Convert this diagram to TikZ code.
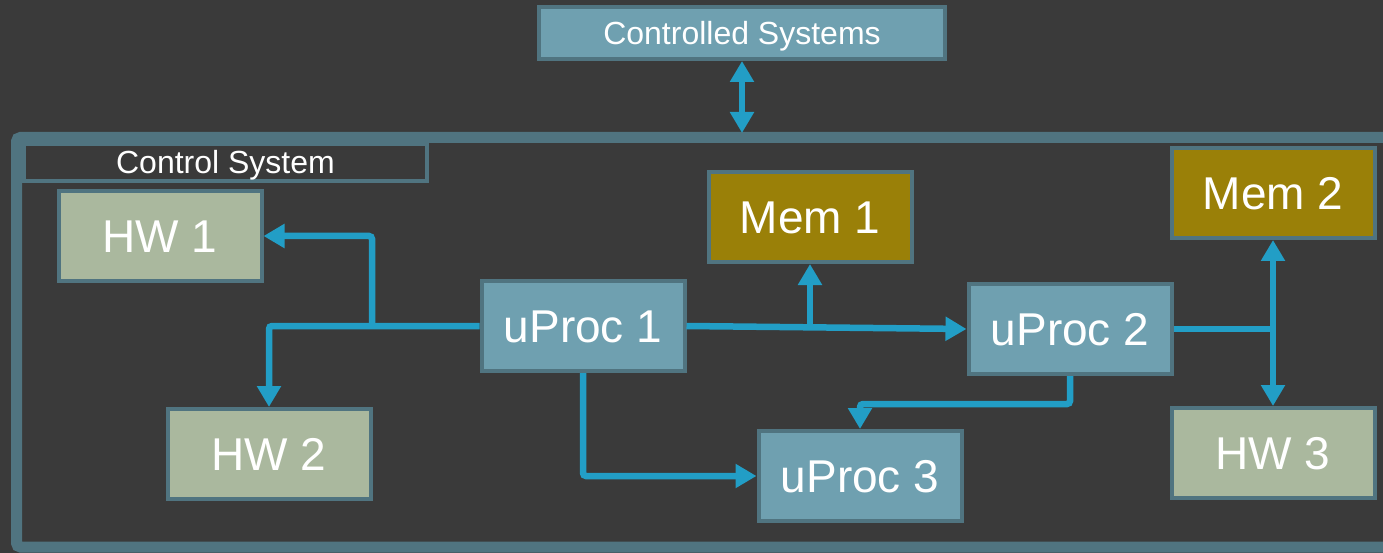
\documentclass[tikz,border=0pt]{standalone}
\usepackage{fontspec}
\setmainfont{Liberation Sans}
\usetikzlibrary{arrows.meta,positioning}
\definecolor{bgGrey}{RGB}{58,58,58}
\definecolor{edgeTeal}{RGB}{80,116,128}
\definecolor{procBlue}{RGB}{111,160,176}
\definecolor{memGold}{RGB}{154,128,8}
\definecolor{hwSage}{RGB}{170,184,158}
\definecolor{wireBlue}{RGB}{34,158,198}
\tikzset{%
  >={Triangle[width=23pt,length=21pt]},
  % Specifications for style of nodes:
      base/.style = {rectangle, draw=edgeTeal, line width=4pt, inner sep=0pt,
                     minimum width=203pt, minimum height=90pt,
                     text height=33pt, text depth=0pt,
                     text=white, font=\fontsize{46}{50}\selectfont},
   procBox/.style = {base, fill=procBlue},
    memBox/.style = {base, fill=memGold},
     hwBox/.style = {base, fill=hwSage},
    sysBox/.style = {base, fill=procBlue, minimum width=406pt,
                     minimum height=52pt, text height=23pt,
                     font=\fontsize{32}{36}\selectfont},
    tabBox/.style = {base, line width=3.5pt, minimum width=403pt,
                     minimum height=37pt, text height=23pt,
                     font=\fontsize{32}{36}\selectfont},
      wire/.style = {draw=wireBlue, line width=6.5pt, rounded corners=3pt},
}

\begin{document}
\begin{tikzpicture}[x=1pt, y=-1pt]
  \fill[bgGrey] (0,0) rectangle (1383,553);
  \clip (0,0) rectangle (1383,553);
  % Frame of the control system
  \draw[edgeTeal, line width=11pt, rounded corners=4pt] (16.5,137.5) rectangle (1420,547);
  \node (ctrlTab) [tabBox] at (225.5,162.5) {Control System};
  % Specification of nodes (position, etc.)
  \node (ctrlSys) [sysBox] at (742,33) {Controlled Systems};
  \node (uProcA) [procBox] at (583,326) {uProc 1};
  \node (uProcB) [procBox] at (1070,329) {uProc 2};
  \node (uProcC) [procBox] at (860,476) {uProc 3};
  \node (memA) [memBox] at (810,217) {Mem 1};
  \node (memB) [memBox] at (1273,193) {Mem 2};
  \node (hwA) [hwBox] at (160,236) {HW 1};
  \node (hwB) [hwBox] at (269,454) {HW 2};
  \node (hwC) [hwBox] at (1273,453) {HW 3};
  % junction points of the wires
  \coordinate (frameTop) at (742,133);
  \coordinate (hwFork) at (372,326);
  \coordinate (memFork) at (810,327.5);
  \coordinate (rightFork) at (1273,329);
  % Specification of lines between nodes specified above
  \draw[wire, <->] (ctrlSys) -- (frameTop);
  \draw[wire, ->] (uProcA.west) -| (hwB.north);
  \draw[wire, ->] (hwFork) |- (hwA.east);
  \draw[wire, ->] (uProcA.east) -- (uProcB.west);
  \draw[wire, ->] (memFork) -- (memA.south);
  \draw[wire, ->] (uProcA.south) |- (uProcC.west);
  \draw[wire, ->] (uProcB.south) -- ++(0,28) -| (uProcC.north);
  \draw[wire] (uProcB.east) -- (rightFork);
  \draw[wire, ->] (rightFork) -- (memB.south);
  \draw[wire, ->] (rightFork) -- (hwC.north);
\end{tikzpicture}
\end{document}
